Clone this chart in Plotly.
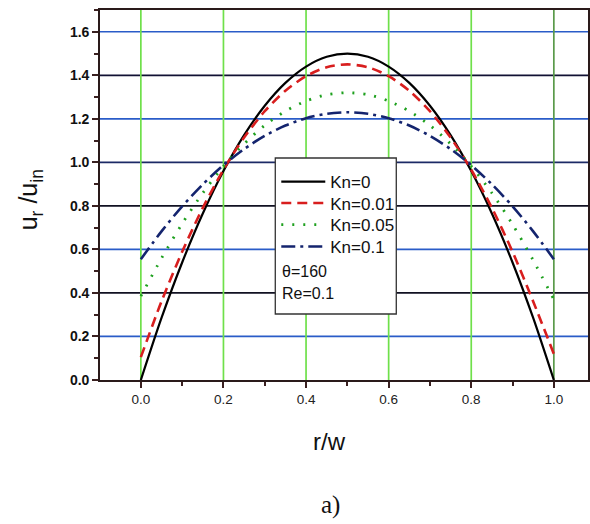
import plotly.graph_objects as go

# ---- data ----
r_w = [0.00, 0.05, 0.10, 0.15, 0.20, 0.25, 0.30, 0.35, 0.40, 0.45, 0.50,
       0.55, 0.60, 0.65, 0.70, 0.75, 0.80, 0.85, 0.90, 0.95, 1.00]
u_kn0 = [0.00, 0.285, 0.54, 0.765, 0.96, 1.125, 1.26, 1.365, 1.44, 1.485, 1.50,
         1.485, 1.44, 1.365, 1.26, 1.125, 0.96, 0.765, 0.54, 0.285, 0.00]
u_kn001 = [0.105, 0.361, 0.589, 0.791, 0.966, 1.114, 1.235, 1.329, 1.396, 1.437, 1.45,
           1.437, 1.396, 1.329, 1.235, 1.114, 0.966, 0.791, 0.589, 0.361, 0.12]
u_kn005 = [0.385, 0.559, 0.718, 0.859, 0.982, 1.085, 1.170, 1.235, 1.282, 1.311, 1.32,
           1.311, 1.282, 1.235, 1.170, 1.085, 0.982, 0.859, 0.715, 0.55, 0.37]
u_kn01 = [0.555, 0.683, 0.798, 0.899, 0.987, 1.061, 1.122, 1.169, 1.203, 1.223, 1.23,
          1.223, 1.203, 1.169, 1.122, 1.061, 0.987, 0.899, 0.798, 0.683, 0.555]
series_names = ["Kn=0", "Kn=0.01", "Kn=0.05", "Kn=0.1"]
extra_text = ["\u03b8=160", "Re=0.1"]

x_ticks = [0.0, 0.2, 0.4, 0.6, 0.8, 1.0]
x_tick_labels = ["0.0", "0.2", "0.4", "0.6", "0.8", "1.0"]
y_ticks = [0.0, 0.2, 0.4, 0.6, 0.8, 1.0, 1.2, 1.4, 1.6]
y_tick_labels = ["0.0", "0.2", "0.4", "0.6", "0.8", "1.0", "1.2", "1.4", "1.6"]

# ---- styles ----
FONT = "Arial, Liberation Sans"
styles = [
    dict(color="#000000", width=2.2, dash="solid"),
    dict(color="#d81e1e", width=2.6, dash="10px,6px"),
    dict(color="#1ea01e", width=2.8, dash="2px,9px"),
    dict(color="#14246e", width=2.6, dash="14px,5px,3px,5px"),
]
hgrid_colors = {0.2: "#2a5cc8", 0.4: "#111122", 0.6: "#2a5cc8", 0.8: "#111122",
                1.0: "#1c2a66", 1.2: "#2a5cc8", 1.4: "#111133", 1.6: "#2a5cc8"}
legend_rows_px = [182, 203.5, 225, 247]   # vertical centres of legend rows (pixels)

fig = go.Figure()
legend_ids = ["legend", "legend2", "legend3", "legend4"]
for name, ys, st, lid in zip(series_names, [u_kn0, u_kn001, u_kn005, u_kn01], styles, legend_ids):
    fig.add_trace(go.Scatter(x=r_w, y=ys, name=name, mode="lines", legend=lid,
                             line=dict(shape="spline", smoothing=0.8, **st)))

shapes = []
for yv in y_ticks:
    if yv in hgrid_colors:
        shapes.append(dict(type="line", xref="paper", yref="y", x0=0, x1=1, y0=yv, y1=yv,
                           line=dict(color=hgrid_colors[yv], width=1.7), layer="below"))
for xv in x_ticks:
    col = "#5a9a4a" if xv == 1.0 else "#6fe04a"
    shapes.append(dict(type="line", xref="x", yref="paper", x0=xv, x1=xv, y0=0, y1=1,
                       line=dict(color=col, width=1.7), layer="below"))
# legend box
shapes.append(dict(type="rect", xref="paper", yref="paper",
                   x0=(276 - 100) / 490, x1=(397.5 - 100) / 490,
                   y0=(380 - 314) / 370, y1=(380 - 158) / 370,
                   fillcolor="white", line=dict(color="#333333", width=1.3), layer="above"))

annotations = [
    dict(text="u<sub>r</sub> /u<sub>in</sub>", xref="paper", yref="paper",
         x=(30 - 100) / 490, y=(380 - 200) / 370, xanchor="center", yanchor="middle",
         showarrow=False, textangle=-90,
         font=dict(family=FONT, size=25, color="#111111")),
    dict(text="r/w", xref="paper", yref="paper", x=(330 - 100) / 490, y=(380 - 441) / 370,
         xanchor="center", yanchor="middle",
         showarrow=False, font=dict(family=FONT, size=24, color="#111111")),
    dict(text="a)", xref="paper", yref="paper", x=(331 - 100) / 490, y=(380 - 505) / 370,
         xanchor="center", yanchor="middle",
         showarrow=False, font=dict(family="Liberation Serif, Times New Roman", size=25, color="#111111")),
]
for i, t in enumerate(extra_text):
    annotations.append(dict(text=t, xref="paper", yref="paper", x=(281 - 100) / 490,
                            y=(380 - (271 + 22 * i)) / 370, xanchor="left", yanchor="middle",
                            showarrow=False,
                            font=dict(family=FONT, size=16, color="#111111")))

legend_common = dict(xanchor="left", yanchor="middle",
                     bgcolor="rgba(0,0,0,0)", borderwidth=0,
                     font=dict(family=FONT, size=17, color="#111111"), itemwidth=44)
legends = {}
for lid, py in zip(legend_ids, legend_rows_px):
    legends[lid] = dict(x=(277 - 100) / 490, y=(380 - py) / 370, **legend_common)

fig.update_layout(
    width=590, height=524,
    margin=dict(l=100, r=0, t=10, b=144),
    paper_bgcolor="white", plot_bgcolor="white",
    showlegend=True,
    shapes=shapes, annotations=annotations,
    xaxis=dict(range=[-0.0989, 1.0827], tickvals=x_ticks, ticktext=x_tick_labels,
               ticks="outside", ticklen=6, tickwidth=1.5, tickcolor="#3a2020",
               showline=True, linecolor="#2a1a1a", linewidth=1.6, mirror=True,
               showgrid=False, zeroline=False,
               minor=dict(dtick=0.1, ticks="outside", ticklen=4, tickcolor="#3a2020", showgrid=False),
               tickfont=dict(family=FONT, size=13.5, color="#222222")),
    yaxis=dict(range=[0, 1.7], tickvals=y_ticks, ticktext=["<b>%s</b>" % s for s in y_tick_labels],
               ticks="outside", ticklen=6, tickwidth=1.5, tickcolor="#3a2020",
               showline=True, linecolor="#2a1a1a", linewidth=1.6, mirror=True,
               showgrid=False, zeroline=False,
               minor=dict(dtick=0.1, ticks="outside", ticklen=4, tickcolor="#3a2020", showgrid=False),
               tickfont=dict(family=FONT, size=14, color="#111111")),
    **legends,
)

fig.write_html("out.html")
